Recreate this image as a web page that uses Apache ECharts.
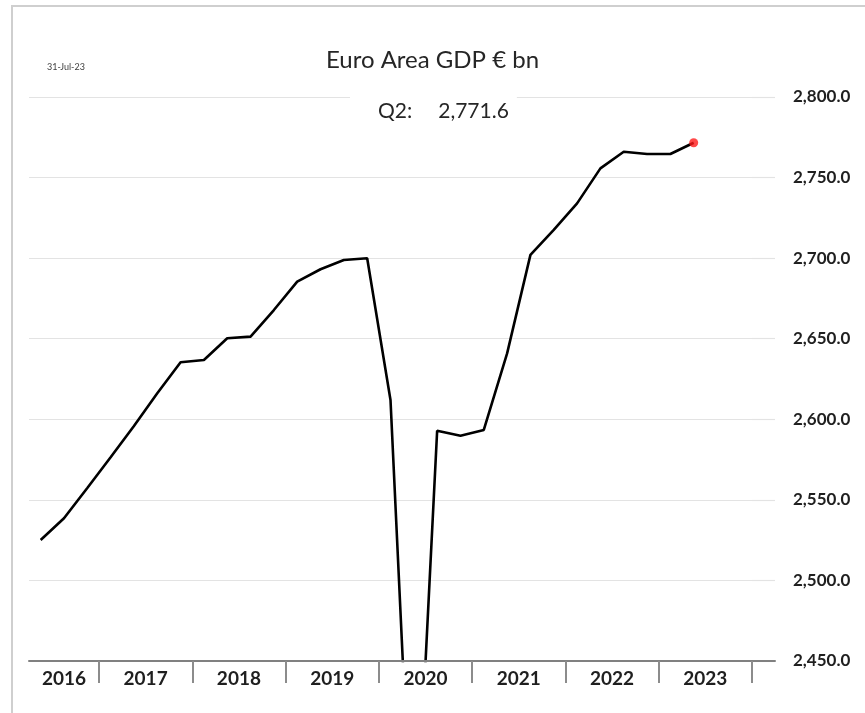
<!DOCTYPE html>
<html>
<head>
<meta charset="utf-8">
<title>Euro Area GDP</title>
<script src="https://cdn.jsdelivr.net/npm/echarts@6/dist/echarts.min.js"></script>
<style>
  html, body { margin: 0; padding: 0; background: #fff; }
  #frame {
    position: absolute; left: 11px; top: 5px; width: 900px; height: 800px;
    border-top: 2px solid #cfcfcf; border-left: 2px solid #cfcfcf;
  }
  #chart { position: absolute; left: 0; top: 0; width: 865px; height: 713px; }
</style>
</head>
<body>
<div id="frame"></div>
<div id="chart"></div>
<script>
// Quarterly euro area GDP, EUR bn, 2016 Q2 – 2023 Q2 (axis runs to 2023 Q4)
const quarters = [
  '2016 Q2', '2016 Q3', '2016 Q4',
  '2017 Q1', '2017 Q2', '2017 Q3', '2017 Q4',
  '2018 Q1', '2018 Q2', '2018 Q3', '2018 Q4',
  '2019 Q1', '2019 Q2', '2019 Q3', '2019 Q4',
  '2020 Q1', '2020 Q2', '2020 Q3', '2020 Q4',
  '2021 Q1', '2021 Q2', '2021 Q3', '2021 Q4',
  '2022 Q1', '2022 Q2', '2022 Q3', '2022 Q4',
  '2023 Q1', '2023 Q2', '2023 Q3', '2023 Q4'
];
const gdp = [
  2525.1, 2538.6, 2557.4,
  2576.4, 2595.8, 2616.1, 2635.4,
  2636.8, 2650.3, 2651.3, 2667.8,
  2685.4, 2693.1, 2698.8, 2699.9,
  2612.0, 2305.0, 2592.9, 2589.8,
  2593.4, 2640.9, 2702.0, 2717.5,
  2734.0, 2755.7, 2766.0, 2764.6,
  2764.6, 2771.6
];
const years = ['2016', '2017', '2018', '2019', '2020', '2021', '2022', '2023'];
const yTicks = [2450, 2500, 2550, 2600, 2650, 2700, 2750, 2800];
const asOf = '31-Jul-23';

const FONT = 'Lato, "Open Sans", sans-serif';
const GRID_LEFT = 29, GRID_TOP = 97, GRID_BOTTOM = 52;
const MAIN_WIDTH = 723, EXTRA_WIDTH = 23;
const band = MAIN_WIDTH / quarters.length;

// Where each year's quarters start, how many it has, and where its label sits
const yearOf = q => q.slice(0, 4);
const labelAt = {};   // category index -> {year, shifted}
const yearStarts = [];
years.forEach(y => {
  const idx = quarters.map((q, i) => yearOf(q) === y ? i : -1).filter(i => i >= 0);
  const n = idx.length;
  yearStarts.push(idx[0]);
  if (n % 2 === 1) labelAt[idx[(n - 1) / 2]] = { year: y, shifted: false };
  else labelAt[idx[n / 2 - 1]] = { year: y, shifted: true };
});

const fmt = v => v.toLocaleString('en-US', { minimumFractionDigits: 1, maximumFractionDigits: 1 });
const lastIdx = gdp.length - 1;
const lastQuarter = 'Q' + quarters[lastIdx].split('Q')[1];

const gridLine = { show: true, lineStyle: { color: '#e3e3e3', width: 1.2 } };
const axisLineStyle = { color: '#808080', width: 2 };

const chart = echarts.init(document.getElementById('chart'), null, { renderer: 'canvas' });
chart.setOption({
  animation: false,
  title: [
    {
      text: 'Euro Area GDP € bn',
      left: 'center', top: 46, padding: 0,
      textStyle: { fontFamily: FONT, fontSize: 24, fontWeight: 'normal', color: '#262626', lineHeight: 28 }
    },
    {
      text: '{a|' + lastQuarter + ':}{b|' + fmt(gdp[lastIdx]) + '}',
      left: 350, top: 90,
      padding: [8, 8, 8, 28],
      backgroundColor: '#ffffff',
      textStyle: {
        rich: {
          a: { fontFamily: FONT, fontSize: 21, fontWeight: 'normal', color: '#262626', lineHeight: 26 },
          b: { fontFamily: FONT, fontSize: 21, fontWeight: 'normal', color: '#262626', lineHeight: 26, padding: [0, 0, 0, 26] }
        }
      }
    },
    {
      text: asOf,
      left: 47, top: 63, padding: 0,
      textStyle: { fontFamily: FONT, fontSize: 9, fontWeight: 'normal', color: '#404040' }
    }
  ],
  grid: [
    { left: GRID_LEFT, top: GRID_TOP, width: MAIN_WIDTH, bottom: GRID_BOTTOM },
    { left: GRID_LEFT + MAIN_WIDTH, top: GRID_TOP, width: EXTRA_WIDTH, bottom: GRID_BOTTOM }
  ],
  xAxis: [
    {
      type: 'category', gridIndex: 0, data: quarters, boundaryGap: true, z: 3,
      axisLine: { show: true, lineStyle: axisLineStyle },
      axisTick: {
        show: true, length: 22, lineStyle: { color: '#8c8c8c', width: 2 },
        interval: i => yearStarts.indexOf(i) > 0
      },
      axisLabel: {
        show: true, margin: 8,
        interval: i => labelAt[i] !== undefined,
        formatter: (v, i) => {
          const l = labelAt[i];
          if (!l) return '';
          return (l.shifted ? '{s|' : '{c|') + l.year + '}';
        },
        rich: {
          c: { fontFamily: FONT, fontSize: 19, fontWeight: 'bold', color: '#1f1f1f' },
          s: { fontFamily: FONT, fontSize: 19, fontWeight: 'bold', color: '#1f1f1f', padding: [0, 0, 0, band] }
        }
      },
      splitLine: { show: false }
    },
    {
      type: 'category', gridIndex: 1, data: [''], z: 3,
      axisLine: { show: true, lineStyle: axisLineStyle },
      axisTick: { show: false }, axisLabel: { show: false }, splitLine: { show: false }
    }
  ],
  yAxis: [
    {
      type: 'value', gridIndex: 0, position: 'right',
      min: yTicks[0], max: yTicks[yTicks.length - 1], interval: yTicks[1] - yTicks[0],
      axisLine: { show: false }, axisTick: { show: false }, axisLabel: { show: false },
      splitLine: gridLine
    },
    {
      type: 'value', gridIndex: 1, position: 'right',
      min: yTicks[0], max: yTicks[yTicks.length - 1], interval: yTicks[1] - yTicks[0],
      axisLine: { show: false }, axisTick: { show: false },
      axisLabel: {
        margin: 18, formatter: v => fmt(v),
        fontFamily: FONT, fontSize: 17, fontWeight: 'bold', color: '#1f1f1f'
      },
      splitLine: gridLine
    }
  ],
  series: [
    {
      type: 'line', xAxisIndex: 0, yAxisIndex: 0,
      data: gdp, showSymbol: false, clip: true,
      lineStyle: { color: '#000000', width: 2.6 },
      z: 2
    },
    {
      type: 'scatter', xAxisIndex: 0, yAxisIndex: 0,
      data: [[quarters[lastIdx], gdp[lastIdx]]],
      symbolSize: 9, itemStyle: { color: '#ff1a1a' },
      z: 4
    }
  ]
});
</script>
</body>
</html>
